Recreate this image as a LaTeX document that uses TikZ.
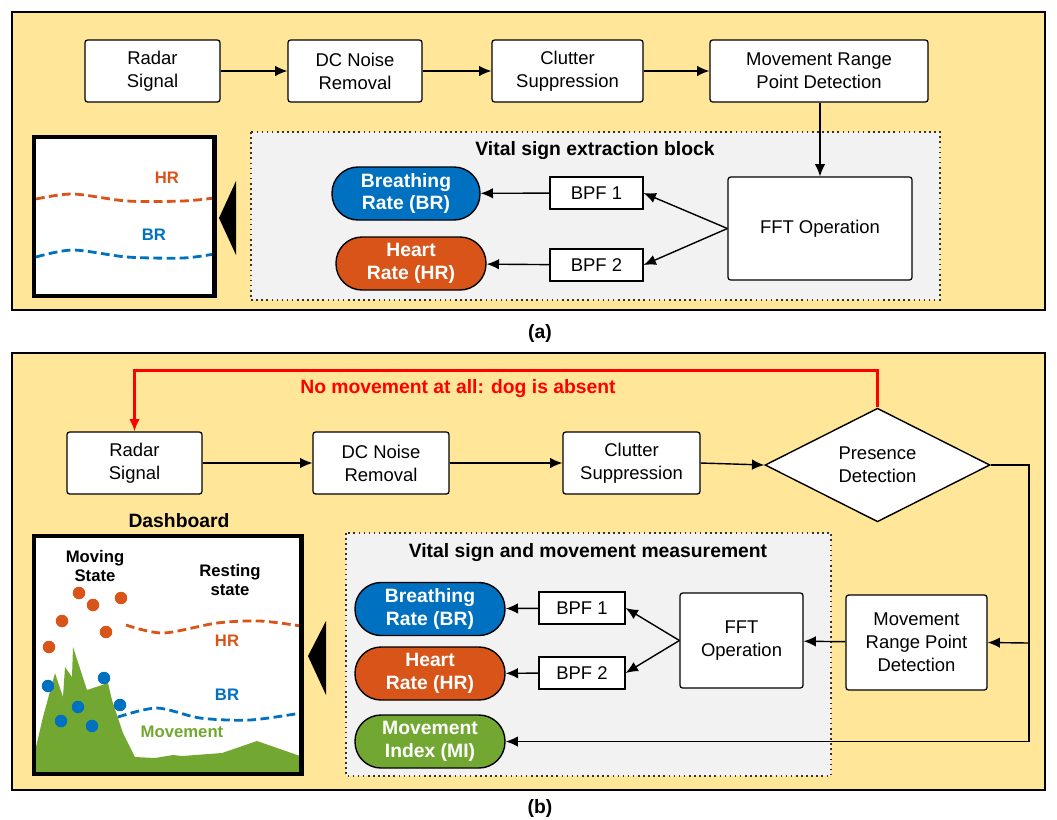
\documentclass[tikz,border=0pt]{standalone}
\usepackage{fontspec}
\setmainfont{Liberation Sans}
\usetikzlibrary{arrows.meta, positioning, shapes.geometric}

\definecolor{panelbg}{RGB}{255,230,153}
\definecolor{blockbg}{RGB}{242,242,242}
\definecolor{brblue}{RGB}{0,112,192}
\definecolor{hrorange}{RGB}{216,84,24}
\definecolor{mvgreen}{RGB}{114,168,50}

\begin{document}
\begin{tikzpicture}[
		x=0.02cm, y=-0.02cm,
		box/.style={draw, fill=white, rounded corners=1.5pt, line width=0.7pt, align=center, minimum height=1.24cm, inner sep=2pt, font=\fontsize{10.5}{13}\selectfont},
		pill/.style={draw, line width=0.8pt, rounded corners=0.52cm, minimum width=3cm, minimum height=1.06cm, align=center, text=white, font=\bfseries\fontsize{11}{13}\selectfont},
		arrow/.style={-{Latex[length=7pt,width=6pt]}, line width=0.8pt},
		panel/.style={draw, line width=1.4pt, fill=panelbg},
		block/.style={draw=black!80, dotted, line width=0.9pt, fill=blockbg},
		chart/.style={draw, line width=2.6pt},
		wave/.style={dash pattern=on 5pt off 2.5pt, line width=1.6pt},
		title/.style={font=\bfseries\fontsize{11}{13}\selectfont},
		tag/.style={font=\bfseries\fontsize{9.5}{11}\selectfont, align=center}
	]
	\useasboundingbox (0,0) rectangle (1057,819);

	% ---------------- (a) ----------------
	\draw[panel] (12,12) rectangle (1045,310);
	\node[title] (capa) at (540,333) {(a)};

	\node[box, minimum width=2.7cm]  (radarA) at (152.5,71) {Radar\\Signal};
	\node[box, minimum width=2.68cm] (dcA)    at (355,71)   {DC Noise\\Removal};
	\node[box, minimum width=3.02cm] (clutA)  at (567.5,71) {Clutter\\Suppression};
	\node[box, minimum width=4.36cm] (mrpdA)  at (819,71)   {Movement Range\\Point Detection};

	\draw[block] (251,132) rectangle (940,300);
	\node[title] (blkA) at (595,151) {Vital sign extraction block};

	\node[box, minimum width=3.68cm, minimum height=2.06cm] (fftA) at (820,228.5) {FFT Operation};
	\node[box, rounded corners=0pt, minimum width=1.86cm, minimum height=0.64cm] (bpf1A) at (596.5,193) {BPF 1};
	\node[box, rounded corners=0pt, minimum width=1.86cm, minimum height=0.64cm] (bpf2A) at (596.5,265) {BPF 2};
	\node[pill, fill=brblue, minimum width=2.96cm] (brA) at (406,193.5) {Breathing\\Rate (BR)};
	\node[pill, fill=hrorange] (hrA) at (411,263.5) {Heart\\Rate (HR)};

	\draw[arrow] (radarA) -- (dcA);
	\draw[arrow] (dcA) -- (clutA);
	\draw[arrow] (clutA) -- (mrpdA);
	\draw[arrow] (mrpdA.south -| fftA.north) -- (fftA.north);
	\draw[arrow] (fftA.west) -- (bpf1A.east);
	\draw[arrow] (fftA.west) -- (bpf2A.east);
	\draw[arrow] (bpf1A) -- (brA);
	\draw[arrow] (bpf2A) -- (hrA);

	% small chart
	\fill[white] (34,137) rectangle (214.5,296);
	\begin{scope}
		\clip (34,137) rectangle (214.5,296);
		\draw[wave, hrorange] plot[smooth] coordinates {(36,199) (73,194) (127,201) (183,201) (214,198)};
		\draw[wave, brblue] plot[smooth] coordinates {(36,257) (73,250) (127,257) (183,258) (214,254)};
	\end{scope}
	\node[tag, text=hrorange] (hrlabA) at (167,178) {HR};
	\node[tag, text=brblue] (brlabA) at (154,235) {BR};
	\draw[chart] (34,137) rectangle (214.5,296);
	\fill (236,181) -- (219,218) -- (236,255) -- cycle;

	% ---------------- (b) ----------------
	\draw[panel] (12,353) rectangle (1045,790);
	\node[title] (capb) at (540,808) {(b)};

	\node[box, minimum width=2.7cm]  (radarB) at (134.5,463) {Radar\\Signal};
	\node[box, minimum width=2.72cm] (dcB)    at (381,463)   {DC Noise\\Removal};
	\node[box, minimum width=2.74cm] (clutB)  at (631.5,463) {Clutter\\Suppression};
	\node[draw, diamond, fill=white, line width=0.8pt, inner sep=0pt, minimum width=4.5cm, minimum height=2.2cm, align=center, font=\fontsize{10.5}{13}\selectfont] (presB) at (877.5,465) {Presence\\Detection};

	\draw[block] (346,533) rectangle (831,776);
	\node[title] (blkB) at (588,553) {Vital sign and movement measurement};

	\node[box, minimum width=2.82cm, minimum height=1.9cm] (mrpdB) at (916.5,642.5) {Movement\\Range Point\\Detection};
	\node[box, minimum width=2.46cm, minimum height=1.9cm] (fftB) at (741.5,640.5) {FFT\\Operation};
	\node[box, rounded corners=0pt, minimum width=1.72cm, minimum height=0.64cm] (bpf1B) at (582,608) {BPF 1};
	\node[box, rounded corners=0pt, minimum width=1.72cm, minimum height=0.64cm] (bpf2B) at (582,673) {BPF 2};
	\node[pill, fill=brblue] (brB) at (430,609) {Breathing\\Rate (BR)};
	\node[pill, fill=hrorange] (hrB) at (430,673.5) {Heart\\Rate (HR)};
	\node[pill, fill=mvgreen] (miB) at (430,741.5) {Movement\\Index (MI)};

	\draw[arrow] (radarB) -- (dcB);
	\draw[arrow] (dcB) -- (clutB);
	\draw[arrow] (clutB.east) -- (presB.west);
	\draw[arrow, red, line width=1.3pt] (presB.north) -- ++(0,-37) -| (radarB.north);
	\node[font=\bfseries\fontsize{11}{13}\selectfont, text=red] (absent) at (458,389) {No movement at all: dog is absent};
	\coordinate (turn) at (1029,643);
	\draw[arrow] (presB.east) -- (presB.east -| turn) |- (miB.east);
	\draw[arrow] (turn) -- (mrpdB.east);
	\draw[arrow] (mrpdB) -- (fftB);
	\draw[arrow] (fftB.west) -- (bpf1B.east);
	\draw[arrow] (fftB.west) -- (bpf2B.east);
	\draw[arrow] (bpf1B) -- (brB);
	\draw[arrow] (bpf2B) -- (hrB);

	% dashboard
	\node[title] (dash) at (179,521) {Dashboard};
	\fill[white] (34,536) rectangle (301.5,774);
	\begin{scope}
		\clip (34,536) rectangle (301.5,774);
		\fill[mvgreen] (36,776) -- (36,747) -- (43,717) -- (55,673) -- (63,697) -- (65,667) -- (72,677) -- (73,647)
			-- (87,690) -- (108,683) -- (112,700) -- (123,733) -- (135,757) -- (155,758) -- (173,755) -- (182,756)
			-- (222,753) -- (257,741) -- (300,756) -- (300,776) -- cycle;
		\draw[wave, hrorange] plot[smooth] coordinates {(126,625) (163,633) (217,623) (260,621) (301,626)};
		\draw[wave, brblue] plot[smooth] coordinates {(118,717) (157,708) (200,718) (250,720) (301,713)};
		\foreach \px/\py in {79/593, 93/605, 121/598, 62/621, 106/632, 49/647}
			\fill[hrorange] (\px,\py) circle (0.125cm);
		\foreach \px/\py in {48/686, 104/678, 78/707, 120/705, 61/721, 92/726}
			\fill[brblue] (\px,\py) circle (0.125cm);
	\end{scope}
	\node[tag] (moving) at (95,566) {Moving\\State};
	\node[tag] (resting) at (230,580) {Resting\\state};
	\node[tag, text=hrorange] (hrlabB) at (227,641) {HR};
	\node[tag, text=brblue] (brlabB) at (227,695) {BR};
	\node[tag, text=mvgreen] (mvlab) at (182,732) {Movement};
	\draw[chart] (34,536) rectangle (301.5,774);
	\fill (326,621) -- (308,656) -- (326,695) -- cycle;

\end{tikzpicture}
\end{document}
